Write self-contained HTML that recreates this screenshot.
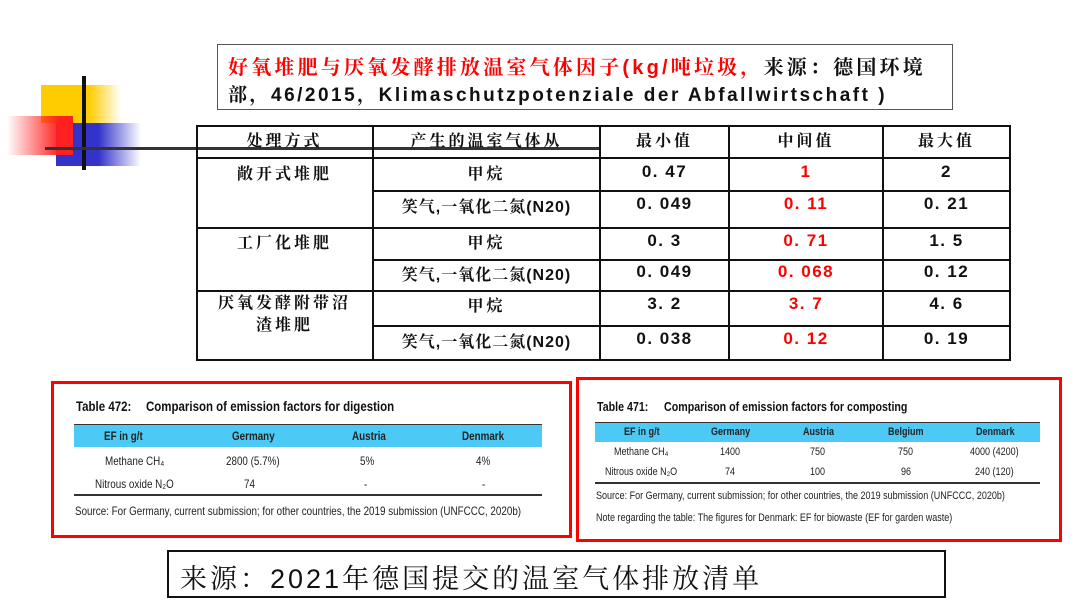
<!DOCTYPE html>
<html><head><meta charset="utf-8"><style>
*{margin:0;padding:0;box-sizing:border-box}
body{width:1080px;height:606px;background:#fff;position:relative;overflow:hidden;font-family:"Liberation Sans","Noto Sans CJK SC",sans-serif}
.a{position:absolute}
.h{position:absolute;height:2px;background:#111}
.v{position:absolute;width:2px;background:#111}
.t{position:absolute;text-align:center;font-size:16px;color:#111;white-space:nowrap;font-family:"Liberation Sans","Noto Serif CJK SC",serif;font-weight:bold;letter-spacing:3px}
.n{font-family:"Liberation Sans",sans-serif;font-weight:bold;font-size:17px;letter-spacing:1.5px}
.r{color:#f00}
.cal{font-family:"Liberation Sans",sans-serif;font-size:11px;color:#222;transform:scaleX(.82);transform-origin:left top;white-space:nowrap}
</style></head><body>
<div class="a" style="left:41px;top:85px;width:80px;height:38px;background:linear-gradient(90deg,#ffcc00 60%,rgba(255,204,0,0))"></div>
<div class="a" style="left:56px;top:123px;width:85px;height:43px;background:linear-gradient(90deg,#3333cc 50%,rgba(51,51,204,0))"></div>
<div class="a" style="left:7px;top:116px;width:66px;height:39px;background:linear-gradient(90deg,rgba(255,0,0,0),#ff2020 80%)"></div>
<div class="a" style="left:82px;top:76px;width:4px;height:94px;background:#111"></div>
<div class="a" style="left:45px;top:147px;width:555px;height:3px;background:#333"></div>
<div class="a" style="left:217px;top:44px;width:736px;height:66px;border:1.5px solid #555"></div>
<div class="a" style="left:228px;top:51px;font-size:20px;font-weight:bold;color:#f00;font-family:'Liberation Sans','Noto Serif CJK SC',serif;white-space:nowrap;letter-spacing:3.2px">好氧堆肥与厌氧发酵排放温室气体因子(kg/吨垃圾，<span style="color:#111">来源：德国环境</span></div>
<div class="a" style="left:228px;top:80px;font-size:19px;font-weight:bold;color:#111;font-family:'Liberation Sans','Noto Serif CJK SC',sans-serif;white-space:nowrap;letter-spacing:2.5px">部，46/2015，Klimaschutzpotenziale der Abfallwirtschaft )</div>
<div class="h" style="left:196px;top:125px;width:815px"></div>
<div class="h" style="left:196px;top:157px;width:815px"></div>
<div class="h" style="left:373px;top:190px;width:638px"></div>
<div class="h" style="left:196px;top:227px;width:815px"></div>
<div class="h" style="left:373px;top:259px;width:638px"></div>
<div class="h" style="left:196px;top:290px;width:815px"></div>
<div class="h" style="left:373px;top:325px;width:638px"></div>
<div class="h" style="left:196px;top:359px;width:815px"></div>
<div class="v" style="left:196px;top:125px;height:236px"></div>
<div class="v" style="left:372px;top:125px;height:236px"></div>
<div class="v" style="left:599px;top:125px;height:236px"></div>
<div class="v" style="left:728px;top:125px;height:236px"></div>
<div class="v" style="left:882px;top:125px;height:236px"></div>
<div class="v" style="left:1009px;top:125px;height:236px"></div>
<div class="t" style="left:196px;width:177px;top:128px">处理方式</div>
<div class="t" style="left:373px;width:227px;top:128px">产生的温室气体从</div>
<div class="t" style="left:600px;width:129px;top:128px">最小值</div>
<div class="t" style="left:729px;width:154px;top:128px">中间值</div>
<div class="t" style="left:883px;width:127px;top:128px">最大值</div>
<div class="t" style="left:196px;width:177px;top:161px">敞开式堆肥</div>
<div class="t" style="left:196px;width:177px;top:230px">工厂化堆肥</div>
<div class="t" style="left:196px;width:177px;top:293px;line-height:22px">厌氧发酵附带沼<br>渣堆肥</div>
<div class="t" style="left:373px;width:227px;top:161px">甲烷</div>
<div class="t" style="left:373px;width:227px;top:194px;letter-spacing:1px">笑气,一氧化二氮(N20)</div>
<div class="t" style="left:373px;width:227px;top:230px">甲烷</div>
<div class="t" style="left:373px;width:227px;top:262px;letter-spacing:1px">笑气,一氧化二氮(N20)</div>
<div class="t" style="left:373px;width:227px;top:293px">甲烷</div>
<div class="t" style="left:373px;width:227px;top:329px;letter-spacing:1px">笑气,一氧化二氮(N20)</div>
<div class="t n" style="left:600px;width:129px;top:162px">0. 47</div>
<div class="t n r" style="left:729px;width:154px;top:162px">1</div>
<div class="t n" style="left:883px;width:127px;top:162px">2</div>
<div class="t n" style="left:600px;width:129px;top:194px">0. 049</div>
<div class="t n r" style="left:729px;width:154px;top:194px">0. 11</div>
<div class="t n" style="left:883px;width:127px;top:194px">0. 21</div>
<div class="t n" style="left:600px;width:129px;top:231px">0. 3</div>
<div class="t n r" style="left:729px;width:154px;top:231px">0. 71</div>
<div class="t n" style="left:883px;width:127px;top:231px">1. 5</div>
<div class="t n" style="left:600px;width:129px;top:262px">0. 049</div>
<div class="t n r" style="left:729px;width:154px;top:262px">0. 068</div>
<div class="t n" style="left:883px;width:127px;top:262px">0. 12</div>
<div class="t n" style="left:600px;width:129px;top:294px">3. 2</div>
<div class="t n r" style="left:729px;width:154px;top:294px">3. 7</div>
<div class="t n" style="left:883px;width:127px;top:294px">4. 6</div>
<div class="t n" style="left:600px;width:129px;top:329px">0. 038</div>
<div class="t n r" style="left:729px;width:154px;top:329px">0. 12</div>
<div class="t n" style="left:883px;width:127px;top:329px">0. 19</div>

<div class="a" style="left:51px;top:381px;width:521px;height:157px;border:3px solid #f00"></div>
<div class="a" style="left:76px;top:398px;font-size:14px;font-weight:bold;color:#111;transform:scaleX(.82);transform-origin:left top;white-space:nowrap">Table 472:</div>
<div class="a" style="left:146px;top:398px;font-size:14px;font-weight:bold;color:#111;transform:scaleX(.82);transform-origin:left top;white-space:nowrap">Comparison of emission factors for digestion</div>
<div class="a" style="left:74px;top:424px;width:468px;height:23px;background:#4cc9f5;border-top:1.5px solid #333"></div>
<div class="a" style="left:74px;top:494px;width:468px;height:1.5px;background:#333"></div>
<div class="a cal" style="left:104px;top:429px;font-weight:bold;font-size:12px">EF in g/t</div>
<div class="a cal" style="left:232px;top:429px;font-weight:bold;font-size:12px">Germany</div>
<div class="a cal" style="left:352px;top:429px;font-weight:bold;font-size:12px">Austria</div>
<div class="a cal" style="left:462px;top:429px;font-weight:bold;font-size:12px">Denmark</div>
<div class="a cal" style="left:105px;top:454px;font-size:12px">Methane CH₄</div>
<div class="a cal" style="left:226px;top:454px;font-size:12px">2800 (5.7%)</div>
<div class="a cal" style="left:360px;top:454px;font-size:12px">5%</div>
<div class="a cal" style="left:476px;top:454px;font-size:12px">4%</div>
<div class="a cal" style="left:95px;top:477px;font-size:12px">Nitrous oxide N₂O</div>
<div class="a cal" style="left:244px;top:477px;font-size:12px">74</div>
<div class="a cal" style="left:364px;top:477px;font-size:12px">-</div>
<div class="a cal" style="left:482px;top:477px;font-size:12px">-</div>
<div class="a cal" style="left:75px;top:504px;font-size:12px">Source: For Germany, current submission; for other countries, the 2019 submission (UNFCCC, 2020b)</div>

<div class="a" style="left:576px;top:377px;width:486px;height:165px;border:3px solid #f00"></div>
<div class="a" style="left:597px;top:399px;font-size:13px;font-weight:bold;color:#111;transform:scaleX(.82);transform-origin:left top;white-space:nowrap">Table 471:</div>
<div class="a" style="left:664px;top:399px;font-size:13px;font-weight:bold;color:#111;transform:scaleX(.82);transform-origin:left top;white-space:nowrap">Comparison of emission factors for composting</div>
<div class="a" style="left:595px;top:422px;width:445px;height:20px;background:#4cc9f5;border-top:1.5px solid #333"></div>
<div class="a" style="left:595px;top:482px;width:445px;height:1.5px;background:#333"></div>
<div class="a cal" style="left:624px;top:426px;font-weight:bold">EF in g/t</div>
<div class="a cal" style="left:711px;top:426px;font-weight:bold">Germany</div>
<div class="a cal" style="left:803px;top:426px;font-weight:bold">Austria</div>
<div class="a cal" style="left:888px;top:426px;font-weight:bold">Belgium</div>
<div class="a cal" style="left:976px;top:426px;font-weight:bold">Denmark</div>
<div class="a cal" style="left:614px;top:446px">Methane CH₄</div>
<div class="a cal" style="left:720px;top:446px">1400</div>
<div class="a cal" style="left:810px;top:446px">750</div>
<div class="a cal" style="left:898px;top:446px">750</div>
<div class="a cal" style="left:970px;top:446px">4000 (4200)</div>
<div class="a cal" style="left:605px;top:466px">Nitrous oxide N₂O</div>
<div class="a cal" style="left:725px;top:466px">74</div>
<div class="a cal" style="left:810px;top:466px">100</div>
<div class="a cal" style="left:901px;top:466px">96</div>
<div class="a cal" style="left:975px;top:466px">240 (120)</div>
<div class="a cal" style="left:596px;top:490px">Source: For Germany, current submission; for other countries, the 2019 submission (UNFCCC, 2020b)</div>
<div class="a cal" style="left:596px;top:512px">Note regarding the table: The figures for Denmark: EF for biowaste (EF for garden waste)</div>

<div class="a" style="left:167px;top:550px;width:779px;height:48px;border:2px solid #111"></div>
<div class="a" style="left:180px;top:557px;font-size:27px;color:#111;font-family:'Liberation Sans','Noto Serif CJK SC',serif;white-space:nowrap;letter-spacing:3px">来源：2021年德国提交的温室气体排放清单</div>
</body></html>
